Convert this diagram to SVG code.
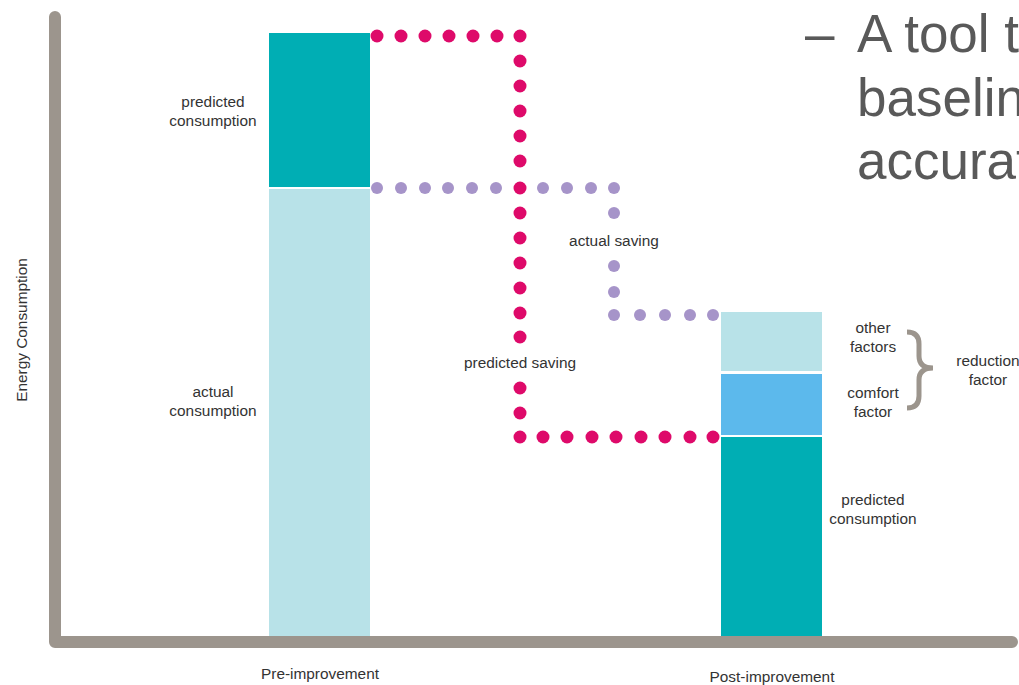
<svg xmlns="http://www.w3.org/2000/svg" width="1019" height="685" viewBox="0 0 1019 685">
<style>
.lbl{font-family:"Liberation Sans",Arial,sans-serif;font-size:15.4px;fill:#333;text-anchor:middle}
.big{font-family:"Liberation Sans",Arial,sans-serif;font-size:53px;fill:#595959}
.teal{fill:#00AEB4}
.light{fill:#B8E2E8}
.blue{fill:#5CB9EC}
.m{fill:#DE0A6A}
.p{fill:#A694C9}
</style>
<rect width="1019" height="685" fill="#fff"/>
<g id="axes">
<path d="M55,17 V642 H1012" fill="none" stroke="#9C958D" stroke-width="12" stroke-linecap="round" stroke-linejoin="round"/>
<text class="lbl" transform="translate(27,330) rotate(-90)">Energy Consumption</text>
</g>
<g id="pre-bar">
<rect class="teal" x="269" y="33" width="101" height="154"/>
<rect class="light" x="269" y="189" width="101" height="447"/>
<text class="lbl" x="213" y="107">predicted</text>
<text class="lbl" x="213" y="126">consumption</text>
<text class="lbl" x="213" y="397">actual</text>
<text class="lbl" x="213" y="416">consumption</text>
<text class="lbl" x="320" y="679">Pre-improvement</text>
</g>
<g id="post-bar">
<rect class="light" x="721" y="312" width="101" height="59"/>
<rect class="blue" x="721" y="374" width="101" height="61"/>
<rect class="teal" x="721" y="437" width="101" height="199"/>
<text class="lbl" x="873" y="333">other</text>
<text class="lbl" x="873" y="352">factors</text>
<text class="lbl" x="873" y="398">comfort</text>
<text class="lbl" x="873" y="417">factor</text>
<text class="lbl" x="873" y="505">predicted</text>
<text class="lbl" x="873" y="524">consumption</text>
<text class="lbl" x="772" y="682">Post-improvement</text>
</g>
<g id="reduction-factor">
<path d="M907,332 Q919,332 919,344 V356 Q919,368 933,368 Q919,368 919,380 V396 Q919,408 907,408" fill="none" stroke="#9C958D" stroke-width="5"/>
<text class="lbl" x="988" y="366">reduction</text>
<text class="lbl" x="988" y="385">factor</text>
</g>
<g id="connectors">
<g id="actual-saving-dots">
<circle class="p" cx="377" cy="188" r="6"/>
<circle class="p" cx="401" cy="188" r="6"/>
<circle class="p" cx="425" cy="188" r="6"/>
<circle class="p" cx="448" cy="188" r="6"/>
<circle class="p" cx="472" cy="188" r="6"/>
<circle class="p" cx="496" cy="188" r="6"/>
<circle class="p" cx="543" cy="188" r="6"/>
<circle class="p" cx="567" cy="188" r="6"/>
<circle class="p" cx="591" cy="188" r="6"/>
<circle class="p" cx="614" cy="188" r="6"/>
<circle class="p" cx="614" cy="213" r="6"/>
<circle class="p" cx="614" cy="266" r="6"/>
<circle class="p" cx="614" cy="292" r="6"/>
<circle class="p" cx="614" cy="315" r="6"/>
<circle class="p" cx="640" cy="315" r="6"/>
<circle class="p" cx="665" cy="315" r="6"/>
<circle class="p" cx="690" cy="315" r="6"/>
<circle class="p" cx="713" cy="315" r="6"/>
</g>
<g id="predicted-saving-dots">
<circle class="m" cx="377" cy="36" r="6.5"/>
<circle class="m" cx="401" cy="36" r="6.5"/>
<circle class="m" cx="425" cy="36" r="6.5"/>
<circle class="m" cx="449" cy="36" r="6.5"/>
<circle class="m" cx="473" cy="36" r="6.5"/>
<circle class="m" cx="497" cy="36" r="6.5"/>
<circle class="m" cx="520" cy="36" r="6.5"/>
<circle class="m" cx="520" cy="61" r="6.5"/>
<circle class="m" cx="520" cy="86" r="6.5"/>
<circle class="m" cx="520" cy="111" r="6.5"/>
<circle class="m" cx="520" cy="136" r="6.5"/>
<circle class="m" cx="520" cy="161" r="6.5"/>
<circle class="m" cx="520" cy="188" r="6.5"/>
<circle class="m" cx="520" cy="213" r="6.5"/>
<circle class="m" cx="520" cy="238" r="6.5"/>
<circle class="m" cx="520" cy="263" r="6.5"/>
<circle class="m" cx="520" cy="288" r="6.5"/>
<circle class="m" cx="520" cy="313" r="6.5"/>
<circle class="m" cx="520" cy="337" r="6.5"/>
<circle class="m" cx="520" cy="388" r="6.5"/>
<circle class="m" cx="520" cy="413" r="6.5"/>
<circle class="m" cx="520" cy="437" r="6.5"/>
<circle class="m" cx="543" cy="437" r="6.5"/>
<circle class="m" cx="567" cy="437" r="6.5"/>
<circle class="m" cx="592" cy="437" r="6.5"/>
<circle class="m" cx="616" cy="437" r="6.5"/>
<circle class="m" cx="641" cy="437" r="6.5"/>
<circle class="m" cx="665" cy="437" r="6.5"/>
<circle class="m" cx="690" cy="437" r="6.5"/>
<circle class="m" cx="713" cy="437" r="6.5"/>
</g>
<text class="lbl" x="614" y="246">actual saving</text>
<text class="lbl" x="520" y="368">predicted saving</text>
</g>
<g id="heading">
<text class="big" x="805" y="52">–</text>
<text class="big" x="857" y="52">A tool t</text>
<text class="big" x="857" y="116">baselin</text>
<text class="big" x="857" y="179">accurat</text>
</g>
</svg>
